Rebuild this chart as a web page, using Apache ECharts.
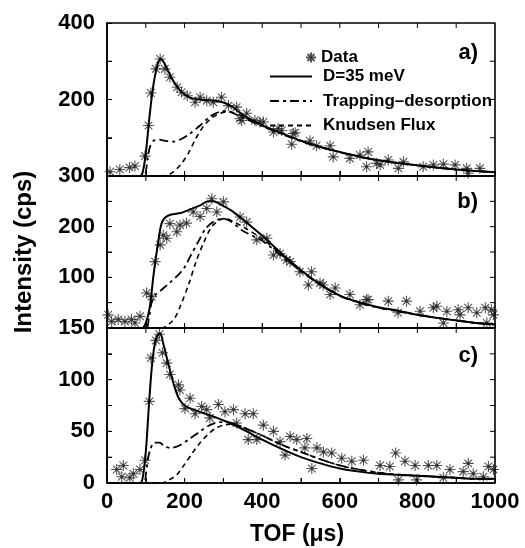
<!DOCTYPE html>
<html><head><meta charset="utf-8">
<script src="https://cdn.jsdelivr.net/npm/echarts@6/dist/echarts.min.js"></script>
<style>html,body{margin:0;padding:0;background:#fff}#c{width:525px;height:548px}</style>
</head><body><div id="c"></div>
<script>
// ---------- Panel a) ----------
const dataA = [[8,11],[33,17],[58,22],[72,26],[98,52],[107,132],[113,217],[126,280],[137,306],[149,280],[162,258],[181,232],[192,219],[207,210],[227,193],[240,206],[257,197],[274,193],[295,206],[313,184],[334,180],[343,150],[347,145],[360,164],[381,145],[394,141],[403,141],[429,115],[441,124],[450,119],[476,83],[480,111],[485,113],[523,92],[540,79],[575,79],[583,50],[626,46],[652,55],[669,24],[673,63],[695,33],[704,29],[725,42],[751,20],[764,37],[815,24],[841,29],[867,31],[897,29],[927,20],[931,7],[961,20]];
const fitA = [[0,0],[85,0],[92,10],[100,60],[110,160],[120,240],[130,290],[138,305],[145,300],[155,280],[170,250],[185,228],[200,213],[220,203],[250,199],[280,197],[300,192],[320,183],[350,160],[400,133],[450,112],[500,92],[550,76],[600,63],[650,51],[700,41],[750,34],[800,28],[850,22],[900,17],[950,13],[1000,10]];
const tdA = [[0,0],[95,0],[100,10],[105,50],[112,80],[120,92],[135,95],[150,92],[170,90],[190,96],[210,108],[240,132],[265,155],[290,168],[310,170],[330,162],[350,153],[400,130],[450,110],[500,91],[550,75],[600,62],[650,50],[700,41],[750,34],[800,28],[850,22],[900,17],[950,13],[1000,10]];
const knA = [[0,0],[140,0],[155,2],[170,10],[190,30],[210,60],[230,100],[250,132],[270,152],[290,163],[310,168],[330,164],[350,155],[400,132],[450,111],[500,92],[550,76],[600,62],[650,51],[700,41],[750,34],[800,28],[850,22],[900,17],[950,13],[1000,10]];
// ---------- Panel b) ----------
const dataB = [[3,26],[12,13],[29,17],[46,13],[63,17],[72,10],[85,23],[102,69],[115,62],[124,131],[137,164],[145,183],[154,177],[162,206],[180,190],[188,203],[205,207],[222,229],[240,220],[257,236],[270,255],[283,229],[300,249],[343,219],[360,209],[386,174],[412,177],[429,144],[446,147],[463,134],[472,131],[497,111],[519,85],[527,111],[549,89],[557,85],[575,66],[588,79],[626,66],[652,46],[669,56],[673,56],[725,53],[750,30],[772,53],[807,33],[841,40],[850,43],[867,10],[876,33],[905,36],[910,26],[931,40],[953,30],[975,40],[979,10],[991,36],[996,26]];
const fitB = [[0,0],[90,0],[100,10],[110,40],[120,105],[130,160],[140,205],[150,218],[165,224],[190,227],[215,234],[240,242],[260,250],[275,250],[290,245],[320,232],[350,214],[400,182],[450,147],[500,114],[550,86],[600,64],[650,51],[700,41],[750,34],[800,26],[850,20],[900,15],[950,10],[1000,7]];
const tdB = [[0,0],[100,0],[108,20],[115,50],[125,65],[140,75],[160,88],[185,106],[200,120],[215,142],[235,170],[255,197],[275,210],[300,216],[320,210],[350,192],[400,172],[450,142],[500,112],[550,85],[600,63],[650,50],[700,40],[750,33],[800,26],[850,20],[900,15],[950,10],[1000,7]];
const knB = [[0,0],[140,0],[160,8],[175,20],[190,45],[210,85],[230,132],[250,170],[270,200],[290,213],[305,216],[320,212],[350,200],[400,176],[450,145],[500,113],[550,86],[600,64],[650,50],[700,40],[750,33],[800,26],[850,20],[900,15],[950,10],[1000,7]];
// ---------- Panel c) ----------
const dataC = [[25,13],[38,6],[42,17],[59,5],[68,9],[85,13],[98,22],[109,79],[113,121],[126,138],[135,144],[143,126],[154,116],[162,105],[184,95],[188,90],[201,72],[214,82],[227,67],[244,74],[257,71],[265,63],[287,76],[304,69],[326,71],[334,58],[356,67],[364,42],[377,67],[386,42],[403,56],[429,50],[446,40],[459,27],[472,45],[489,42],[510,34],[515,43],[528,14],[541,34],[558,30],[579,29],[605,24],[631,21],[661,22],[704,17],[729,16],[744,29],[751,3],[768,21],[794,17],[798,3],[828,17],[850,17],[867,5],[884,13],[918,11],[931,19],[944,9],[970,6],[983,16],[996,13]];
const fitC = [[0,0],[85,0],[92,5],[100,30],[108,75],[115,110],[122,132],[130,143],[137,145],[145,135],[155,120],[165,105],[175,92],[185,82],[200,75],[230,70],[270,65],[310,59],[350,52],[400,42],[450,33],[500,25],[550,19],[600,14],[650,11],[700,9],[750,8],[800,7],[850,6],[900,5],[950,4],[1000,4]];
const tdC = [[0,0],[95,0],[100,8],[105,22],[112,33],[122,39],[135,39],[150,35],[165,34],[185,36],[210,42],[240,50],[265,56],[290,59],[310,59],[350,54],[400,46],[450,37],[500,30],[550,23],[600,17],[650,13],[700,10],[750,8],[800,7],[850,6],[900,5],[950,4],[1000,4]];
const knC = [[0,0],[140,0],[160,3],[180,8],[200,18],[220,29],[240,39],[260,47],[280,53],[300,56],[320,57],[350,54],[400,46],[450,37],[500,30],[550,23],[600,17],[650,13],[700,10],[750,8],[800,7],[850,6],[900,5],[950,4],[1000,4]];

const panelLabels = ['a)', 'b)', 'c)'];
const yRanges = [[0, 400, 100], [0, 300, 50], [0, 150, 25]];
const yShown = [[200, 400], [100, 200, 300], [0, 50, 100, 150]];
const xRange = [0, 1000, 100];
const xTickLabels = [0, 200, 400, 600, 800, 1000];
const names = ['Data', 'D=35 meV', 'Trapping\u2013desorption', 'Knudsen Flux'];

const FONT = 'Liberation Sans';
const panels = [[dataA, fitA, tdA, knA], [dataB, fitB, tdB, knB], [dataC, fitC, tdC, knC]];
const gridTops = [23, 176, 328];
const gridHeights = [153, 152, 155];
const PLOT_W = 388;
const TICK_PX = 5;

function mkLine() { return { show: true, onZero: false, lineStyle: { color: '#000', width: 1.6 } }; }
function mkTick() { return { show: true, inside: true, length: 5, lineStyle: { color: '#000', width: 1 } }; }
const grid = [], xAxis = [], yAxis = [], series = [];
for (let i = 0; i < 3; i++) {
  grid.push({ left: 107, right: 30, top: gridTops[i], height: gridHeights[i] });
  xAxis.push({
    type: 'value', gridIndex: i, min: xRange[0], max: xRange[1], interval: xRange[2],
    axisLine: mkLine(), splitLine: { show: false }, axisTick: mkTick(),
    axisLabel: {
      show: i === 2, margin: 8, color: '#000', fontFamily: FONT, fontWeight: 'bold', fontSize: 22,
      formatter: v => xTickLabels.indexOf(v) >= 0 ? String(v) : ''
    }
  });
  const [ymin, ymax, yint] = yRanges[i];
  yAxis.push({
    type: 'value', gridIndex: i, min: ymin, max: ymax, interval: yint,
    axisLine: mkLine(), splitLine: { show: false }, axisTick: mkTick(),
    axisLabel: {
      show: true, margin: 12, color: '#000', fontFamily: FONT, fontWeight: 'bold', fontSize: 22,
      formatter: v => yShown[i].indexOf(v) >= 0 ? String(v) : ''
    }
  });
  const [d, f, t, k] = panels[i];
  series.push({
    name: names[0], type: 'scatter', xAxisIndex: i, yAxisIndex: i, data: d,
    symbol: 'path://M5,0L5,10M0,5L10,5M1.5,1.5L8.5,8.5M1.5,8.5L8.5,1.5M4,4L6,4L6,6L4,6Z',
    symbolSize: 11,
    itemStyle: { color: '#111', borderColor: '#2a2a2a', borderWidth: 1.1 }, z: 2
  });
  series.push({
    name: names[1], type: 'line', xAxisIndex: i, yAxisIndex: i, data: f,
    symbol: 'none', showSymbol: false, smooth: 0.3, itemStyle: { color: '#000' },
    lineStyle: { color: '#000', width: 2, type: 'solid' }, z: 3
  });
  series.push({
    name: names[2], type: 'line', xAxisIndex: i, yAxisIndex: i, data: t,
    symbol: 'none', showSymbol: false, smooth: 0.3, itemStyle: { color: '#000' },
    lineStyle: { color: '#000', width: 1.8, type: [9, 4, 3, 4] }, z: 3
  });
  series.push({
    name: names[3], type: 'line', xAxisIndex: i, yAxisIndex: i, data: k,
    symbol: 'none', showSymbol: false, smooth: 0.3, itemStyle: { color: '#000' },
    lineStyle: { color: '#000', width: 1.6, type: [5, 4] }, z: 3
  });
  // Frame box at the axis limits
  series.push({
    type: 'line', xAxisIndex: i, yAxisIndex: i, silent: true, clip: false, symbol: 'none', z: 5,
    data: [[xRange[0], ymin], [xRange[1], ymin], [xRange[1], ymax], [xRange[0], ymax], [xRange[0], ymin]],
    lineStyle: { color: '#000', width: 1.6 }
  });
  // Inward ticks on all four sides, at the axis tick values
  const dyTick = TICK_PX * (ymax - ymin) / gridHeights[i];
  const dxTick = TICK_PX * (xRange[1] - xRange[0]) / PLOT_W;
  const tks = [];
  for (let xv = xRange[0] + xRange[2]; xv < xRange[1]; xv += xRange[2]) {
    tks.push([xv, ymin], [xv, ymin + dyTick], '-', [xv, ymax], [xv, ymax - dyTick], '-');
  }
  for (let yv = ymin + yint; yv < ymax; yv += yint) {
    tks.push([xRange[0], yv], [xRange[0] + dxTick, yv], '-', [xRange[1], yv], [xRange[1] - dxTick, yv], '-');
  }
  series.push({
    type: 'line', xAxisIndex: i, yAxisIndex: i, silent: true, clip: false, symbol: 'none', z: 5,
    connectNulls: false, data: tks, lineStyle: { color: '#000', width: 1 }
  });
}

const gtext = [];
const panelLabelY = [53, 202, 356];
for (let i = 0; i < 3; i++) {
  gtext.push({ type: 'text', x: 478, y: panelLabelY[i], style: { text: panelLabels[i], fill: '#000', font: 'bold 22px "' + FONT + '"', textAlign: 'right', textVerticalAlign: 'middle' } });
}
gtext.push({ type: 'text', x: 24, y: 252, rotation: Math.PI / 2, style: { text: 'Intensity (cps)', fill: '#000', font: 'bold 24px "' + FONT + '"', textAlign: 'center', textVerticalAlign: 'middle' } });
gtext.push({ type: 'text', x: 297, y: 535, style: { text: 'TOF (\u03bcs)', fill: '#000', font: 'bold 23px "' + FONT + '"', textAlign: 'center', textVerticalAlign: 'middle' } });

const chart = echarts.init(document.getElementById('c'), null, { renderer: 'canvas' });
chart.setOption({
  animation: false,
  backgroundColor: '#fff',
  grid, xAxis, yAxis, series,
  legend: [
    { data: [names[0]], orient: 'vertical', left: 300, top: 44, itemWidth: 10, itemHeight: 10,
      textStyle: { color: '#000', fontFamily: FONT, fontWeight: 'bold', fontSize: 17 } },
    { data: [names[1], names[2], names[3]], orient: 'vertical', left: 264, top: 63, itemWidth: 42, itemHeight: 14, itemGap: 7.5,
      itemStyle: { opacity: 0 },
      textStyle: { color: '#000', fontFamily: FONT, fontWeight: 'bold', fontSize: 17, padding: [0, 0, 0, 6] } }
  ],
  graphic: gtext
});
</script></body></html>
